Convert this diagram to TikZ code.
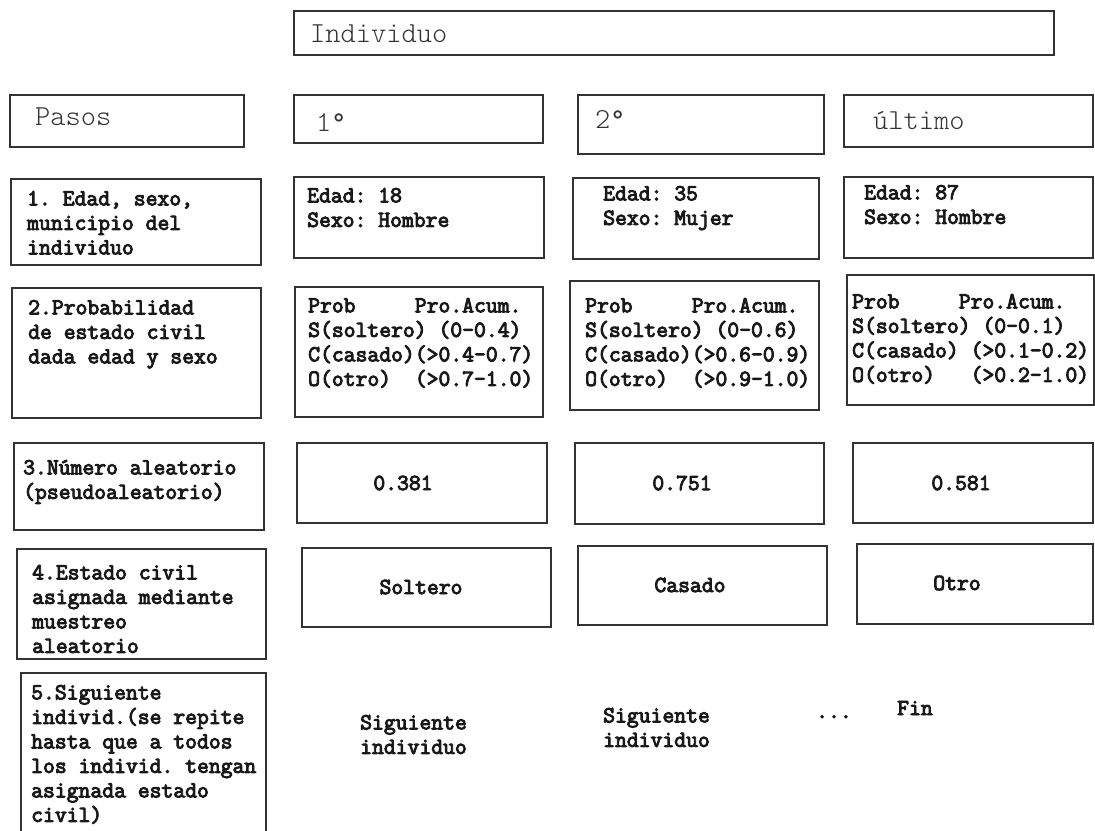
\documentclass[tikz,border=0pt]{standalone}
\usepackage{fontspec}
\IfFontExistsTF{Latin Modern Mono Light}
  {\setmonofont{Latin Modern Mono Light}[BoldFont={Latin Modern Mono}, BoldFeatures={FakeBold=4}]}
  {\setmonofont{Latin Modern Mono}[BoldFont={Latin Modern Mono}, BoldFeatures={FakeBold=4}]}
\newfontfamily\degfont{Latin Modern Mono}
\newcommand\ordmark{{\degfont °}}
\usetikzlibrary{fit}
\tikzset{
  cell/.style={draw=black!80, line width=1.6pt, inner sep=0pt},
  head/.style={font=\fontsize{29}{32}\selectfont\ttfamily, text=black!80,
    inner sep=0pt, anchor=base west},
  body/.style={font=\fontsize{23}{24.5}\selectfont\ttfamily\bfseries,
    text=black!90, inner sep=0pt, align=left, anchor=north west},
  value/.style={font=\fontsize{23}{24.5}\selectfont\ttfamily\bfseries,
    text=black!90, inner sep=0pt},
}
\begin{document}
\begin{tikzpicture}[x=1pt, y=-1pt]
\useasboundingbox (0,0) rectangle (1095,830);
\clip (0,0) rectangle (1095,830);

% header row
\node[cell, fit={(294,11) (1054,55)}] (ind) {};
\node[head] (tind) at (310,42) {Individuo};

\node[cell, fit={(10,95) (244,147)}] (pasos) {};
\node[head] (tpasos) at (35,125) {Pasos};
\node[cell, fit={(294,95) (543,143)}] (h1) {};
\node[head] (th1) at (316,131) {1\ordmark};
\node[cell, fit={(578,95) (824,154)}] (h2) {};
\node[head] (th2) at (595,128) {2\ordmark};
\node[cell, fit={(844,95) (1093,147)}] (hl) {};
\node[head] (thl) at (873,129) {último};

% step 1: age and sex
\node[cell, fit={(11,179) (261,265)}] (s1) {};
\node[body] (ts1) at (27,188) {\strut 1. Edad, sexo,\\municipio del\\individuo};
\node[cell, fit={(294,177) (544,258)}] (a1) {};
\node[body] (ta1) at (307,185) {\strut Edad: 18\\Sexo: Hombre};
\node[cell, fit={(573,178) (819,259)}] (b1) {};
\node[body] (tb1) at (603,183) {\strut Edad: 35\\Sexo: Mujer};
\node[cell, fit={(844,177) (1093,258)}] (c1) {};
\node[body] (tc1) at (864,182) {\strut Edad: 87\\Sexo: Hombre};

% step 2: marital status probabilities
\node[cell, fit={(12,288) (261,418)}] (s2) {};
\node[body] (ts2) at (28,297) {\strut 2.Probabilidad\\de estado civil\\dada edad y sexo};
\node[cell, fit={(295,287) (543,417)}] (a2) {};
\node[body] (ta2) at (308,295) {\strut Prob~~~~~Pro.Acum.\\S(soltero)~(0-0.4)\\C(casado)(>0.4-0.7)\\O(otro)~~(>0.7-1.0)};
\node[cell, fit={(570,281) (819,410)}] (b2) {};
\node[body] (tb2) at (585,295) {\strut Prob~~~~~Pro.Acum.\\S(soltero)~(0-0.6)\\C(casado)(>0.6-0.9)\\O(otro)~~(>0.9-1.0)};
\node[cell, fit={(847,275) (1094,405)}] (c2) {};
\node[body] (tc2) at (852,291) {\strut Prob~~~~~Pro.Acum.\\S(soltero)~(0-0.1)\\C(casado)~(>0.1-0.2)\\O(otro)~~~(>0.2-1.0)};

% step 3: random number
\node[cell, fit={(14,443) (264,530)}] (s3) {};
\node[body] (ts3) at (23,457) {\strut 3.Número aleatorio\\(pseudoaleatorio)};
\node[cell, fit={(297,443) (547,523)}] (a3) {};
\node[value] (ta3) at (403,483) {0.381};
\node[cell, fit={(575,443) (824,524)}] (b3) {};
\node[value] (tb3) at (682,483) {0.751};
\node[cell, fit={(853,443) (1093,523)}] (c3) {};
\node[value] (tc3) at (961,483) {0.581};

% step 4: assigned status
\node[cell, fit={(17,549) (266,659)}] (s4) {};
\node[body] (ts4) at (32,562) {\strut 4.Estado civil\\asignada mediante\\muestreo\\aleatorio};
\node[cell, fit={(302,548) (551,627)}] (a4) {};
\node[value] (ta4) at (421,587) {Soltero};
\node[cell, fit={(578,546) (827,625)}] (b4) {};
\node[value] (tb4) at (690,585) {Casado};
\node[cell, fit={(857,544) (1093,624)}] (c4) {};
\node[value] (tc4) at (957,583) {Otro};

% step 5: next individual
\node[cell, fit={(21,673) (266,850)}] (s5) {};
\node[body] (ts5) at (31,682) {\strut 5.Siguiente\\individ.(se repite\\hasta que a todos\\los individ. tengan\\asignada estado\\civil)};
\node[body] (ta5) at (360,712) {\strut Siguiente\\individuo};
\node[body] (tb5) at (603,705) {\strut Siguiente\\individuo};
\node[value, anchor=base] (dots) at (834,718) {...};
\node[value, anchor=west] (fin) at (897,708) {Fin};
\end{tikzpicture}
\end{document}
